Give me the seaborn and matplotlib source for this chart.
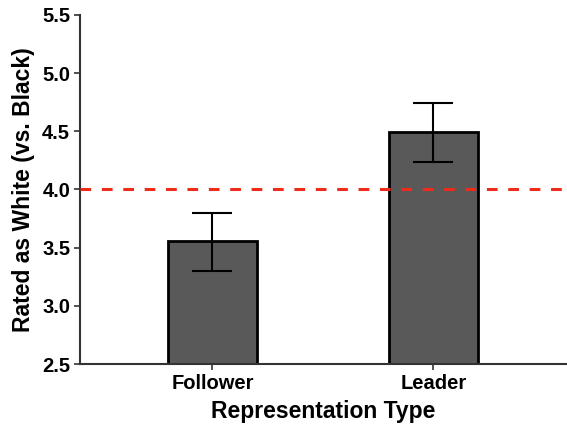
import matplotlib
matplotlib.use("Agg")
import matplotlib.pyplot as plt
import seaborn as sns
import pandas as pd

categories = ["Follower", "Leader"]
means = [3.56, 4.49]
err_low = [3.30, 4.24]
err_high = [3.80, 4.74]
reference_value = 4.0
y_ticks = [2.5, 3.0, 3.5, 4.0, 4.5, 5.0, 5.5]

sns.set_style("white")
plt.rcParams["font.family"] = ["Liberation Sans", "DejaVu Sans"]
plt.rcParams["font.weight"] = "bold"

df = pd.DataFrame({"type": categories, "rating": means})

fig = plt.figure(figsize=(5.67, 4.26), dpi=100)
ax = fig.add_axes([0.141, 0.1455, 0.857, 0.8195])

sns.barplot(data=df, x="type", y="rating", color="#595959", width=0.4,
            edgecolor="black", linewidth=2.0, saturation=1, errorbar=None, ax=ax)

lower = [m - lo for m, lo in zip(means, err_low)]
upper = [hi - m for m, hi in zip(means, err_high)]
ax.errorbar(range(len(categories)), means, yerr=[lower, upper], fmt="none",
            ecolor="black", elinewidth=1.5, capsize=14.4, capthick=1.5, zorder=5)

ax.axhline(reference_value, color="#ee2c1c", linewidth=2.2, dashes=(3.5, 3.5), zorder=6)

ax.set_xlim(-0.6, 1.6)
ax.set_ylim(2.5, 5.5)
ax.set_yticks(y_ticks)
ax.set_yticklabels([f"{t:.1f}" for t in y_ticks])

ax.set_xlabel("Representation Type", fontsize=16.5, fontweight="bold", labelpad=5, color="black")
ax.set_ylabel("Rated as White (vs. Black)", fontsize=16.5, fontweight="bold", labelpad=5, color="black")
ax.tick_params(axis="both", labelsize=14.5, labelcolor="black", colors="#333333",
               length=4, width=1.2, direction="out", bottom=True, left=True, pad=3)
for lab in ax.get_xticklabels() + ax.get_yticklabels():
    lab.set_fontweight("bold")

sns.despine(ax=ax)
for side in ["left", "bottom"]:
    ax.spines[side].set_color("#333333")
    ax.spines[side].set_linewidth(1.5)

fig.savefig("out.png", dpi=100)
